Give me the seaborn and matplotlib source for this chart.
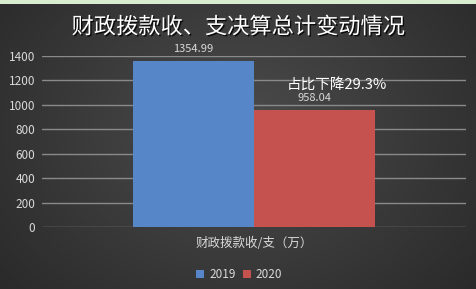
import numpy as np
import pandas as pd
import matplotlib
matplotlib.use("Agg")
import matplotlib.pyplot as plt
import matplotlib.patheffects as pe
import seaborn as sns

categories = ["财政拨款收/支（万）"]
years = ["2019", "2020"]
values_2019 = [1354.99]
values_2020 = [958.04]
yticks = [0, 200, 400, 600, 800, 1000, 1200, 1400]
title = "财政拨款收、支决算总计变动情况"
note = "占比下降29.3%"

df = pd.DataFrame({
    "cat": categories * 2,
    "year": [years[0]] * len(categories) + [years[1]] * len(categories),
    "val": values_2019 + values_2020,
})

sns.set_theme(style="dark")
plt.rcParams['font.family'] = ['Noto Sans CJK SC', 'DejaVu Sans']

W, H = 477, 289
fig = plt.figure(figsize=(W / 100, H / 100), dpi=100)

# background gradient
bg = fig.add_axes([0, 0, 1, 1], zorder=-10)
yy, xx = np.mgrid[0:H, 0:W]
cx, cy = W * 0.5, H * 0.45
d = np.sqrt(((xx - cx) / (W * 0.65)) ** 2 + ((yy - cy) / (H * 0.85)) ** 2)
d = np.clip(d, 0, 1)
inner = np.array([0x4c, 0x4c, 0x4c]) / 255
outer = np.array([0x2a, 0x2a, 0x2a]) / 255
img = inner[None, None, :] * (1 - d[..., None]) + outer[None, None, :] * d[..., None]
img[0:4, :, :] = np.array([0xd8, 0xec, 0xd0]) / 255
bg.imshow(img, aspect="auto", extent=[0, 1, 0, 1], origin="upper")
bg.set_axis_off()

ax = fig.add_axes([42 / W, 1 - 227 / H, (466 - 42) / W, (227 - 56) / H])
ax.set_facecolor("none")
palette = {"2019": "#5686c8", "2020": "#c6524f"}
sns.barplot(data=df, x="cat", y="val", hue="year", palette=palette,
            width=0.57, ax=ax, saturation=1, edgecolor="none", legend=True)

ax.set_ylim(0, 1400)
ax.set_yticks(yticks)
ax.set_yticklabels([str(v) for v in yticks], color="#d9d9d9", fontsize=8.5)
ax.set_xlim(-0.5, 0.5)
ax.tick_params(axis="x", colors="#d9d9d9", labelsize=9, length=0, pad=7)
ax.tick_params(axis="y", length=0, pad=5)
ax.grid(axis="y", color="#8a8a8a", linewidth=1)
ax.grid(axis="x", visible=False)
ax.set_axisbelow(True)
for s in ax.spines.values():
    s.set_visible(False)
ax.set_xlabel("")
ax.set_ylabel("")

for cont in ax.containers:
    for bar in cont:
        h = bar.get_height()
        ax.text(bar.get_x() + bar.get_width() / 2, h + 60, f"{h:.2f}",
                ha="center", va="bottom", color="#d9d9d9", fontsize=8)

ax.text(0.578, 0.83, note, transform=ax.transAxes, color="white",
        fontsize=10.5, ha="left", va="center")

leg = ax.legend(loc="upper center", bbox_to_anchor=(0.465, -0.18), ncol=2,
                frameon=False, fontsize=8.5, handlelength=0.7, handleheight=0.7,
                columnspacing=0.6, handletextpad=0.4)
for t in leg.get_texts():
    t.set_color("#d9d9d9")

fig.text(0.5, 1 - 27 / H, title, ha="center", va="center", color="white",
         fontsize=16, fontweight="medium",
         path_effects=[pe.withSimplePatchShadow(offset=(1, -1), shadow_rgbFace="black", alpha=0.8)])

fig.savefig("out.png", dpi=100)
